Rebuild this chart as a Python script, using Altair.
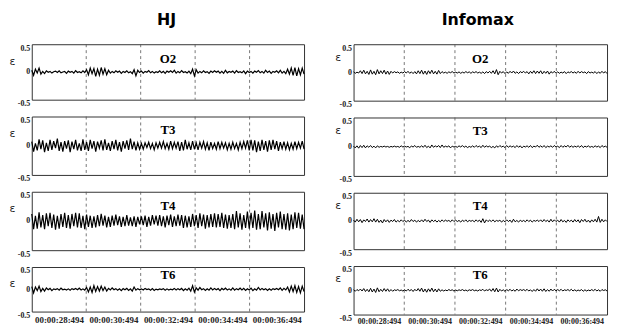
import altair as alt
import pandas as pd

methods = ["HJ", "Infomax"]
channels = ["O2", "T3", "T4", "T6"]
t_start = 27.494
t_end = 37.494
grid_secs = [29.494, 31.494, 33.494, 35.494]
tick_secs = [28.494, 30.494, 32.494, 34.494, 36.494]
tick_labels = ["00:00:28:494", "00:00:30:494", "00:00:32:494", "00:00:34:494", "00:00:36:494"]
y_ticks = [-0.5, 0, 0.5]
y_labels = ["-0.5", "0", "0.5"]

# signal values in units of 0.001 (150 samples over the 10 s window)
hj_o2 = [30, -60, 50, -20, 70, -40, 10, -30, 20, -5,
         10, -20, 5, 15, -10, 20, -15, 0, 10, -25,
         15, -5, 10, -20, 25, -10, 5, -15, 20, -10,
         40, -50, 70, -30, 60, -80, 50, -60, 80, -40,
         60, -50, 30, -20, 10, -15, 20, -5, 15, -25,
         10, -10, 20, -15, 5, -30, 40, -70, 30, -10,
         15, -20, 10, -5, 25, -15, 10, -20, 5, -10,
         20, -15, 10, -25, 15, -5, 20, -10, 30, -20,
         10, -15, 25, -10, 5, -20, 15, -30, 50, -70,
         40, -20, 10, -15, 20, -10, 5, -25, 15, -10,
         20, -5, 15, -20, 10, -25, 30, -15, 10, -5,
         15, -20, 25, -10, 5, -15, 20, -30, 15, -10,
         10, -20, 15, -5, 25, -15, 10, -20, 30, -10,
         15, -25, 10, -5, 20, -15, 30, -20, 10, -30,
         50, -40, 70, -60, 80, -70, 60, -50, 70, -40]
hj_t3 = [70, -100, 40, -80, 110, -60, 90, -110, 50, -90,
         100, -70, 80, -40, 120, -90, 60, -100, 80, -50,
         90, -110, 70, -60, 100, -80, 40, -90, 110, -70,
         60, -90, 100, -50, 80, -100, 70, -40, 90, -80,
         110, -70, 50, -90, 80, -60, 100, -80, 60, -100,
         80, -50, 90, -70, 120, -60, 70, -80, 50, -60,
         40, -60, 50, -30, 60, -50, 40, -70, 50, -40,
         60, -40, 70, -50, 40, -60, 80, -50, 60, -40,
         70, -90, 60, -80, 100, -60, 50, -70, 80, -60,
         50, -70, 60, -40, 70, -60, 50, -80, 60, -50,
         40, -60, 70, -50, 60, -40, 50, -70, 40, -60,
         60, -50, 40, -70, 60, -50, 70, -40, 90, -80,
         100, -80, 90, -110, 70, -90, 100, -70, 80, -100,
         90, -70, 100, -60, 80, -90, 60, -50, 70, -60,
         50, -70, 40, -60, 70, -50, 60, -40, 80, -60]
hj_t4 = [120, -140, 90, -130, 150, -110, 100, -140, 130, -90,
         140, -120, 110, -150, 90, -130, 120, -100, 140, -120,
         100, -130, 120, -90, 140, -110, 130, -120, 90, -140,
         110, -100, 90, -120, 80, -110, 100, -90, 120, -80,
         90, -110, 70, -100, 90, -80, 110, -70, 80, -100,
         70, -90, 100, -80, 60, -90, 80, -100, 70, -60,
         80, -70, 90, -100, 70, -80, 100, -60, 90, -80,
         100, -90, 80, -110, 90, -70, 110, -100, 80, -90,
         110, -80, 100, -120, 90, -110, 80, -100, 120, -90,
         100, -120, 130, -90, 110, -130, 100, -110, 120, -100,
         130, -110, 120, -100, 140, -120, 110, -130, 100, -120,
         120, -140, 170, -110, 130, -150, 100, -120, 160, -130,
         140, -120, 180, -150, 120, -140, 170, -110, 130, -160,
         150, -130, 120, -170, 140, -110, 160, -140, 120, -150,
         130, -160, 110, -140, 150, -120, 140, -130, 110, -140]
hj_t6 = [60, -80, 50, -30, 70, -50, 20, -40, 30, -10,
         20, -30, 10, -5, 15, -20, 25, -10, 5, -15,
         10, -20, 15, -5, 20, -10, 25, -15, 10, -20,
         40, -60, 50, -70, 80, -50, 60, -40, 70, -30,
         50, -40, 20, -15, 30, -10, 15, -20, 10, -30,
         15, -10, 20, -25, 10, -40, 50, -20, 15, -10,
         10, -15, 20, -5, 10, -20, 15, -25, 5, -10,
         10, -5, 15, -20, 10, -15, 5, -10, 20, -15,
         15, -10, 20, -30, 10, -20, 25, -40, 80, -60,
         30, -20, 40, -10, 15, -25, 10, -20, 30, -15,
         20, -10, 15, -30, 20, -10, 25, -15, 10, -20,
         30, -20, 15, -10, 25, -15, 20, -25, 10, -15,
         25, -30, 10, -20, 40, -15, 20, -10, 15, -25,
         10, -20, 15, -5, 20, -10, 30, -25, 20, -15,
         50, -60, 70, -50, 80, -70, 60, -80, 70, -50]
im_o2 = [10, -15, 5, -10, 30, -20, 40, -25, 20, -35,
         45, -30, 20, -40, 50, -25, 30, -20, 40, -30,
         25, -35, 20, -10, 15, -5, 10, -15, 5, -10,
         15, -10, 20, -15, 10, -20, 15, -25, 30, -20,
         40, -30, 25, -35, 30, -20, 40, -25, 20, -30,
         35, -20, 15, -10, 5, -15, 10, -5, 15, -10,
         5, -10, 10, -15, 5, -10, 15, -5, 10, -15,
         10, -5, 15, -10, 5, -15, 10, -20, 15, -10,
         20, -15, 30, -25, 50, -40, 20, -10, 15, -20,
         10, -15, 20, -10, 25, -15, 10, -20, 15, -5,
         20, -10, 15, -25, 20, -15, 30, -20, 25, -15,
         30, -25, 20, -15, 25, -30, 15, -10, 20, -15,
         10, -15, 5, -10, 15, -20, 10, -5, 15, -10,
         10, -15, 20, -10, 15, -5, 10, -20, 15, -10,
         5, -10, 15, -20, 10, -15, 20, -10, 15, -20]
im_t3 = [10, -20, 15, -25, 20, -15, 25, -20, 15, -10,
         20, -15, 10, -20, 15, -10, 5, -5, 10, -5,
         5, -10, 5, -5, 10, -5, 5, -10, 15, -5,
         10, -5, 5, -15, 10, -5, 20, -10, 5, -10,
         15, -10, 25, -15, 10, -20, 30, -10, 15, -5,
         20, -15, 30, -10, 10, -5, 15, -20, 10, -5,
         5, -10, 15, -5, 20, -10, 10, -15, 5, -10,
         15, -10, 20, -5, 10, -15, 25, -10, 15, -5,
         10, -15, 5, -20, 15, -10, 20, -5, 10, -15,
         20, -10, 15, -5, 10, -15, 20, -10, 15, -20,
         10, -5, 15, -10, 20, -15, 10, -5, 25, -10,
         15, -10, 20, -15, 10, -5, 15, -10, 20, -5,
         10, -15, 20, -10, 15, -5, 25, -10, 15, -10,
         10, -5, 15, -10, 20, -15, 10, -5, 15, -10,
         5, -10, 15, -5, 10, -15, 20, -5, 10, -10]
im_t4 = [15, -20, 30, -15, 25, -30, 20, -10, 35, -20,
         25, -15, 40, -20, 30, -25, 15, -35, 25, -15,
         20, -25, 15, -10, 25, -20, 10, -15, 20, -10,
         15, -20, 10, -15, 25, -10, 15, -20, 10, -15,
         20, -15, 30, -10, 15, -25, 20, -10, 15, -20,
         10, -15, 20, -10, 15, -5, 10, -15, 20, -10,
         15, -10, 10, -20, 15, -10, 20, -15, 10, -5,
         10, -15, 20, -10, 15, -25, 40, -35, 20, -10,
         15, -10, 20, -15, 10, -5, 15, -20, 10, -15,
         20, -10, 15, -25, 30, -15, 10, -20, 15, -10,
         10, -15, 20, -10, 15, -20, 10, -5, 15, -10,
         20, -15, 25, -10, 15, -20, 30, -15, 20, -10,
         15, -20, 25, -15, 10, -25, 20, -10, 15, -20,
         25, -15, 20, -30, 25, -10, 30, -20, 15, -25,
         20, -15, 30, -20, 80, -25, 30, -15, 20, -10]
im_t6 = [10, -20, 15, -10, 25, -15, 35, -25, 20, -30,
         40, -35, 25, -45, 50, -30, 20, -25, 35, -20,
         30, -25, 15, -20, 10, -5, 15, -10, 5, -15,
         10, -15, 20, -10, 15, -25, 20, -15, 35, -20,
         45, -35, 25, -40, 30, -25, 45, -30, 25, -35,
         30, -20, 10, -15, 5, -10, 15, -5, 10, -15,
         5, -10, 10, -5, 15, -10, 5, -15, 10, -5,
         15, -10, 5, -15, 10, -5, 20, -15, 10, -5,
         25, -20, 35, -30, 45, -35, 20, -15, 10, -20,
         15, -10, 20, -15, 10, -20, 25, -10, 15, -5,
         15, -10, 20, -15, 10, -25, 15, -20, 30, -15,
         25, -20, 30, -25, 15, -20, 25, -15, 20, -10,
         15, -10, 20, -15, 10, -5, 15, -10, 20, -15,
         10, -15, 5, -10, 15, -20, 10, -15, 5, -10,
         15, -10, 20, -15, 10, -20, 15, -5, 10, -15]

signals = {
    "HJ": [hj_o2, hj_t3, hj_t4, hj_t6],
    "Infomax": [im_o2, im_t3, im_t4, im_t6],
}

x_label_expr = "[" + ",".join(f"'{s}'" for s in tick_labels) + f"][round((datum.value - {tick_secs[0]}) / 2)]"
y_label_expr = (f"datum.value < 0 ? '{y_labels[0]}' : "
                f"(datum.value > 0 ? '{y_labels[2]}' : '{y_labels[1]}')")


def make_panel(vals, ch, w, h, bottom, eps_x, eps_y, xfont, xpad, ly, sw):
    n = len(vals)
    times = [t_start + i * (t_end - t_start) / (n - 1) for i in range(n)]
    df = pd.DataFrame({"t": times, "v": [v / 1000 for v in vals]})
    gdf = pd.DataFrame({"t": grid_secs})
    ldf = pd.DataFrame({"t": [(t_start + t_end) / 2], "v": [ly], "ch": [ch]})

    xscale = alt.Scale(domain=[t_start, t_end], nice=False, zero=False)
    if bottom:
        xaxis = alt.Axis(values=tick_secs, labelExpr=x_label_expr, title=None,
                         ticks=False, domain=False, grid=False,
                         labelFont="Liberation Serif", labelFontWeight="bold",
                         labelFontSize=xfont, labelPadding=xpad, labelFlush=False,
                         labelColor="#222")
    else:
        xaxis = None
    x = alt.X("t:Q", scale=xscale, axis=xaxis)
    y = alt.Y("v:Q", scale=alt.Scale(domain=[-0.5, 0.5], nice=False),
              axis=alt.Axis(values=y_ticks, labelExpr=y_label_expr, title="ε",
                            titleAngle=0, titleX=eps_x, titleY=eps_y,
                            titleAlign="center", titleBaseline="middle",
                            titleFont="DejaVu Sans", titleFontSize=11,
                            titleFontWeight="normal", titleColor="#222",
                            labelFont="Liberation Serif", labelFontSize=8,
                            labelFontWeight="bold", labelColor="#222",
                            labelBaseline={"condition": {"test": "datum.value == 0", "value": "middle"},
                                           "value": "top"},
                            labelFlush=False,
                            ticks=False, domain=False, grid=False, labelPadding=2))

    grid = alt.Chart(gdf).mark_rule(strokeDash=[3, 3], color="#555", strokeWidth=0.8).encode(x=x)
    line = alt.Chart(df).mark_line(color="black", strokeWidth=sw).encode(x=x, y=y)
    label = alt.Chart(ldf).mark_text(font="Liberation Serif", fontWeight="bold",
                                     fontSize=13, color="black",
                                     baseline="middle").encode(x=x, y=y, text="ch:N")
    return alt.layer(grid, line, label).properties(width=w, height=h)


left_heights = [56, 59, 59, 45]
right_heights = [57, 59, 57, 49]
label_ys = [0.24, 0.26, 0.26, 0.32]

left = alt.vconcat(
    *[make_panel(signals["HJ"][i], channels[i], 275, left_heights[i], i == 3,
                 -20, 17, 9, 4, label_ys[i], 1.2) for i in range(4)],
    spacing=7,
    title=alt.Title(methods[0], font="DejaVu Sans", fontSize=16, fontWeight="bold",
                    color="black", anchor="middle", offset=16, dx=9),
)
right = alt.vconcat(
    *[make_panel(signals["Infomax"][i], channels[i], 256, right_heights[i], i == 3,
                 -16, 13, 8, 3, label_ys[i], 1.0) for i in range(4)],
    spacing=7,
    title=alt.Title(methods[1], font="DejaVu Sans", fontSize=16, fontWeight="bold",
                    color="black", anchor="middle", offset=16, dx=6),
)

chart = alt.hconcat(left, right, spacing=27).properties(
    padding={"left": 0, "top": 2, "right": 0, "bottom": 0}
).configure_view(stroke="#333", strokeWidth=1)

chart.save("out.html", embed_options={"renderer": "svg", "actions": False})
